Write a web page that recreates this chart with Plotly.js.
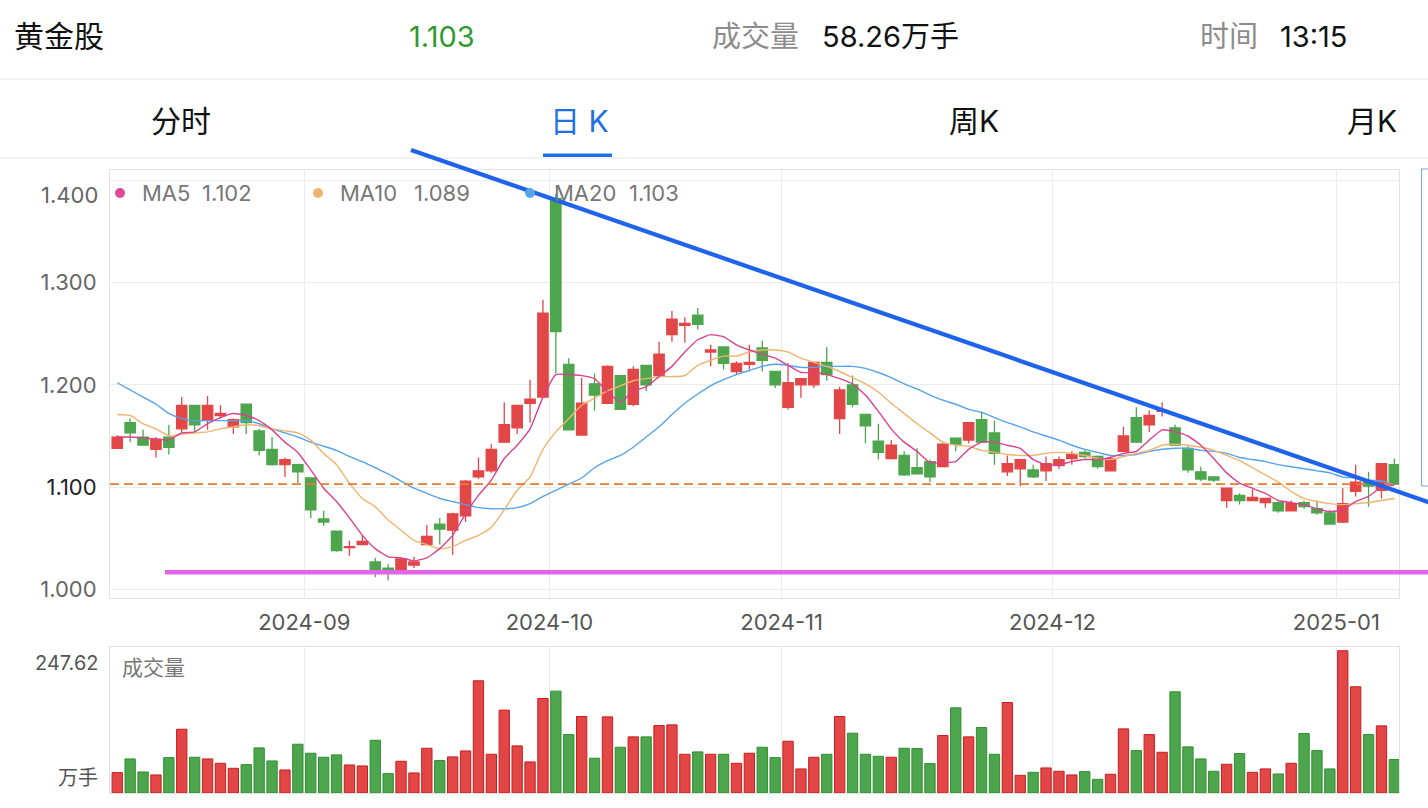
<!DOCTYPE html>
<html>
<head>
<meta charset="utf-8">
<script src="https://cdn.plot.ly/plotly-3.0.1.min.js"></script>
<style>
html,body{margin:0;padding:0;background:#fff;}
#chart{width:1428px;height:808px;}
</style>
</head>
<body>
<div id="chart"></div>
<script>
// ---------- data ----------
const months = ['2024-08','2024-09','2024-10','2024-11','2024-12','2025-01'];
const tradingDays = [15,19,18,21,22,5];

const open = [1.138,1.163,1.149,1.137,1.149,1.157,1.180,1.166,1.170,1.159,
1.181,1.155,1.137,1.122,1.122,1.109,1.069,1.057,1.041,1.044,
1.027,1.021,1.019,1.024,1.044,1.064,1.058,1.072,1.110,1.116,
1.144,1.158,1.182,1.188,1.382,1.220,1.151,1.201,1.182,1.209,
1.181,1.219,1.209,1.249,1.258,1.268,1.232,1.237,1.213,1.220,
1.236,1.213,1.178,1.200,1.200,1.222,1.167,1.200,1.171,1.145,
1.128,1.131,1.119,1.125,1.120,1.148,1.146,1.166,1.153,1.115,
1.118,1.117,1.116,1.121,1.128,1.134,1.130,1.116,1.135,1.168,
1.161,1.174,1.158,1.138,1.115,1.110,1.087,1.092,1.087,1.085,
1.085,1.077,1.085,1.079,1.075,1.066,1.096,1.105,1.097,1.122];
const high = [1.151,1.167,1.156,1.149,1.161,1.188,1.180,1.189,1.180,1.167,
1.181,1.157,1.149,1.129,1.123,1.109,1.077,1.057,1.048,1.053,
1.031,1.025,1.031,1.032,1.063,1.070,1.075,1.107,1.129,1.142,
1.183,1.180,1.205,1.283,1.386,1.226,1.207,1.211,1.219,1.209,
1.218,1.219,1.242,1.272,1.266,1.275,1.239,1.237,1.223,1.239,
1.243,1.213,1.221,1.206,1.222,1.237,1.198,1.209,1.171,1.162,
1.146,1.135,1.138,1.127,1.143,1.148,1.163,1.174,1.165,1.131,
1.127,1.122,1.130,1.130,1.135,1.136,1.131,1.130,1.159,1.178,
1.175,1.183,1.161,1.140,1.120,1.111,1.099,1.094,1.098,1.089,
1.086,1.087,1.087,1.087,1.078,1.099,1.122,1.115,1.123,1.128];
const low = [1.138,1.144,1.141,1.129,1.132,1.153,1.154,1.156,1.167,1.152,
1.152,1.131,1.121,1.110,1.104,1.070,1.062,1.037,1.033,1.043,
1.012,1.009,1.018,1.021,1.044,1.044,1.034,1.066,1.108,1.114,
1.144,1.152,1.163,1.188,1.211,1.156,1.151,1.175,1.181,1.176,
1.179,1.194,1.209,1.242,1.241,1.254,1.218,1.215,1.210,1.215,
1.213,1.197,1.176,1.187,1.197,1.204,1.152,1.178,1.143,1.127,
1.127,1.111,1.113,1.105,1.120,1.135,1.143,1.144,1.122,1.111,
1.101,1.109,1.106,1.118,1.122,1.128,1.118,1.116,1.135,1.144,
1.154,1.169,1.141,1.114,1.106,1.105,1.080,1.083,1.087,1.080,
1.075,1.077,1.079,1.073,1.064,1.065,1.091,1.081,1.089,1.103];
const close = [1.149,1.153,1.141,1.147,1.139,1.180,1.161,1.180,1.172,1.166,
1.163,1.136,1.122,1.127,1.115,1.078,1.066,1.038,1.042,1.047,
1.019,1.019,1.030,1.027,1.052,1.059,1.074,1.106,1.116,1.137,
1.161,1.180,1.186,1.270,1.252,1.156,1.182,1.190,1.218,1.176,
1.215,1.200,1.230,1.264,1.260,1.259,1.234,1.221,1.221,1.222,
1.224,1.200,1.202,1.206,1.222,1.210,1.195,1.181,1.160,1.134,
1.141,1.112,1.113,1.110,1.142,1.142,1.163,1.144,1.133,1.123,
1.127,1.110,1.123,1.127,1.132,1.130,1.120,1.128,1.150,1.144,
1.170,1.175,1.141,1.117,1.108,1.107,1.099,1.087,1.090,1.089,
1.077,1.084,1.081,1.075,1.064,1.084,1.105,1.101,1.123,1.103];
const volume = [35.5,59.3,36.6,31.4,61.6,111.0,62.2,59.3,51.7,43.0,
49.4,78.5,55.8,40.1,84.9,69.2,62.2,66.3,48.8,47.1,
91.8,33.7,55.2,34.9,77.9,56.4,62.8,73.2,195.3,67.4,
144.2,82.0,54.1,164.5,177.3,101.7,133.1,60.5,132.5,79.6,
97.7,97.7,117.4,118.6,67.4,71.5,67.4,67.4,51.7,69.2,
79.6,61.6,90.1,41.9,62.2,67.4,133.1,104.1,67.4,63.9,
62.2,77.9,77.3,51.2,100.0,148.2,97.7,113.9,67.4,157.5,
30.8,36.0,43.6,37.8,31.4,37.2,23.8,32.6,111.6,73.8,
101.7,70.9,176.1,80.2,59.3,37.8,50.0,68.6,36.0,41.9,
33.1,51.7,103.5,73.8,41.9,247.62,184.9,101.7,116.8,58.26];
const ma5 = [1.149,1.149,1.148,1.147,1.146,1.153,1.154,1.162,1.168,1.172,
1.170,1.165,1.156,1.144,1.134,1.117,1.099,1.086,1.070,1.053,
1.040,1.032,1.031,1.028,1.031,1.040,1.053,1.074,1.092,1.107,
1.128,1.141,1.157,1.188,1.210,1.210,1.209,1.206,1.193,1.183,
1.194,1.198,1.208,1.218,1.232,1.244,1.249,1.247,1.239,1.234,
1.230,1.226,1.219,1.212,1.212,1.210,1.206,1.201,1.190,1.174,
1.157,1.144,1.135,1.124,1.124,1.125,1.137,1.144,1.144,1.141,
1.138,1.127,1.122,1.122,1.125,1.127,1.127,1.129,1.133,1.135,
1.146,1.156,1.154,1.150,1.141,1.128,1.114,1.104,1.099,1.094,
1.087,1.085,1.083,1.079,1.076,1.078,1.086,1.091,1.100,1.102];
const ma10 = [1.171,1.170,1.162,1.157,1.150,1.152,1.153,1.154,1.157,1.159,
1.161,1.160,1.157,1.155,1.153,1.146,1.133,1.122,1.104,1.089,
1.081,1.068,1.058,1.048,1.044,1.040,1.042,1.048,1.053,1.061,
1.078,1.097,1.110,1.137,1.154,1.167,1.180,1.187,1.194,1.199,
1.204,1.206,1.208,1.208,1.209,1.219,1.224,1.228,1.228,1.232,
1.234,1.234,1.232,1.226,1.222,1.218,1.213,1.207,1.201,1.193,
1.182,1.172,1.162,1.153,1.144,1.141,1.140,1.136,1.134,1.132,
1.131,1.131,1.133,1.134,1.133,1.131,1.128,1.127,1.130,1.133,
1.136,1.141,1.142,1.141,1.139,1.136,1.131,1.126,1.119,1.112,
1.105,1.096,1.089,1.086,1.084,1.083,1.084,1.085,1.087,1.089];
const ma20 = [1.202,1.195,1.188,1.181,1.172,1.167,1.165,1.165,1.165,1.165,
1.165,1.162,1.157,1.153,1.149,1.144,1.140,1.136,1.130,1.125,
1.119,1.113,1.106,1.099,1.094,1.089,1.086,1.083,1.080,1.079,
1.079,1.080,1.084,1.091,1.097,1.103,1.109,1.119,1.126,1.131,
1.139,1.149,1.159,1.171,1.182,1.191,1.199,1.205,1.210,1.214,
1.218,1.220,1.219,1.217,1.217,1.218,1.218,1.218,1.216,1.212,
1.207,1.201,1.196,1.190,1.185,1.181,1.176,1.173,1.168,1.163,
1.159,1.154,1.150,1.146,1.141,1.137,1.134,1.131,1.131,1.132,
1.135,1.137,1.138,1.138,1.136,1.135,1.133,1.129,1.127,1.125,
1.122,1.120,1.118,1.116,1.114,1.110,1.109,1.107,1.106,1.103];
const lastPrice = 1.103;
const supportLevel = 1.017;
const maLabels = ['MA5','MA10','MA20'];
const maValues = ['1.102','1.089','1.103'];
const priceTicks = [1.0,1.1,1.2,1.3,1.4];
const volMaxLabel = '247.62';

// ---------- helpers ----------
const W = 1428, H = 808;
const px = x => x / W;
const py = y => 1 - y / H;
const idx = open.map((_, i) => i);
const UP = '#e24646', DOWN = '#4da64d';
const UP_LINE = '#c81e1e', DOWN_LINE = '#2f8f2f';
const FONT = 'Inter, "Noto Sans CJK SC", sans-serif';

let cum = 0; const tickPos = [], tickText = [];
tradingDays.forEach((n, k) => { if (k > 0) { tickPos.push(cum - 0.5); tickText.push(months[k]); } cum += n; });

const volColors = idx.map(i => close[i] >= open[i] ? UP : DOWN);
const volLine = idx.map(i => close[i] >= open[i] ? UP_LINE : DOWN_LINE);

const traces = [
  {type:'candlestick', x: idx, open, high, low, close, xaxis:'x', yaxis:'y',
   increasing:{line:{color:UP, width:1.3}, fillcolor:UP},
   decreasing:{line:{color:DOWN, width:1.3}, fillcolor:DOWN},
   whiskerwidth:0, hoverinfo:'skip'},
  {type:'scatter', mode:'lines', x: idx, y: ma20, line:{color:'#55a3ea', width:1.4, shape:'spline', smoothing:0.6}, xaxis:'x', yaxis:'y', hoverinfo:'skip'},
  {type:'scatter', mode:'lines', x: idx, y: ma10, line:{color:'#f1b36e', width:1.4, shape:'spline', smoothing:0.6}, xaxis:'x', yaxis:'y', hoverinfo:'skip'},
  {type:'scatter', mode:'lines', x: idx, y: ma5, line:{color:'#d8428f', width:1.4, shape:'spline', smoothing:0.4}, xaxis:'x', yaxis:'y', hoverinfo:'skip'},
  {type:'bar', x: idx, y: volume, width:0.8, marker:{color: volColors, line:{color: volLine, width:1}}, xaxis:'x2', yaxis:'y2', hoverinfo:'skip'}
];

const xDom = [px(110), px(1399)];
const xRange = [-0.562, 99.36];
const grid = '#ebebeb', border = '#e2e2e2';

const tickTextY = priceTicks.map(v => {
  const s = v.toFixed(3);
  if (v === 1.4) return '';
  if (Math.abs(v - 1.1) < 1e-9) return '<span style="color:#222">' + s + '</span>';
  return s;
});

const shapes = [
  {type:'line', xref:'paper', yref:'paper', x0:0, x1:1, y0:py(79), y1:py(79), line:{color:'#e6e6e6', width:1}},
  {type:'line', xref:'paper', yref:'paper', x0:0, x1:1, y0:py(158), y1:py(158), line:{color:'#e6e6e6', width:1}},
  {type:'rect', xref:'paper', yref:'paper', x0:px(543), x1:px(612), y0:py(157), y1:py(153.5), fillcolor:'#1f6fe6', line:{width:0}},
  {type:'line', xref:'paper', yref:'y', x0:px(110), x1:px(1399), y0:lastPrice, y1:lastPrice, line:{color:'#e97b2c', width:1.6, dash:'9px,5px'}},
  {type:'line', xref:'paper', yref:'y', x0:px(165), x1:1.01, y0:supportLevel, y1:supportLevel, line:{color:'#e264ea', width:4.5}},
  {type:'line', xref:'paper', yref:'paper', x0:px(411), y0:py(150), x1:px(1430), y1:py(502.7), line:{color:'#1f63ec', width:4.2}},
  {type:'rect', xref:'paper', yref:'paper', x0:px(1421.5), x1:1.02, y0:py(486), y1:py(169), line:{color:'#7ea4da', width:1}, fillcolor:'rgba(0,0,0,0)'},
  {type:'circle', xref:'paper', yref:'paper', x0:px(115), x1:px(125), y0:py(198), y1:py(188), fillcolor:'#dc4a96', line:{width:0}},
  {type:'circle', xref:'paper', yref:'paper', x0:px(313), x1:px(323), y0:py(198), y1:py(188), fillcolor:'#f0b46e', line:{width:0}},
  {type:'circle', xref:'paper', yref:'paper', x0:px(525), x1:px(535), y0:py(198), y1:py(188), fillcolor:'#5aa5ea', line:{width:0}}
];

function ann(text, x, y, size, color, xanchor) {
  return {text, xref:'paper', yref:'paper', x: px(x), y: py(y), xanchor: xanchor || 'left', yanchor:'middle',
          showarrow:false, font:{family:FONT, size, color}};
}
const annotations = [
  ann('黄金股', 12, 36, 30, '#111'),
  ann('1.103', 407, 36, 29, '#2e9a2e'),
  ann('成交量', 710, 36, 29, '#8c8c8c'),
  ann('58.26万手', 820, 36, 29, '#111'),
  ann('时间', 1198, 36, 29, '#8c8c8c'),
  ann('13:15', 1278, 36, 29, '#111'),
  ann('分时', 181, 121, 30, '#111', 'center'),
  ann('日 K', 579, 121, 30, '#1f6fe6', 'center'),
  ann('周K', 974, 121, 30, '#111', 'center'),
  ann('月K', 1372, 121, 30, '#111', 'center'),
  ann(maLabels[0], 140, 193, 22, '#777'), ann(maValues[0], 200, 193, 22, '#777'),
  ann(maLabels[1], 338, 193, 22, '#777'), ann(maValues[1], 412, 193, 22, '#777'),
  ann(maLabels[2], 552, 193, 22, '#777'), ann(maValues[2], 627, 193, 22, '#777'),
  ann(priceTicks[4].toFixed(3), 100, 195, 22, '#666', 'right'),
  ann(volMaxLabel, 100, 663, 20, '#555', 'right'),
  ann('万手', 100, 778, 20, '#555', 'right'),
  ann('成交量', 120, 667, 21, '#777')
];

const layout = {
  width: W, height: H, margin:{l:0, r:0, t:0, b:0},
  paper_bgcolor:'#fff', plot_bgcolor:'#fff', showlegend:false, hovermode:false,
  font:{family:FONT}, boxgap:0.2, boxgroupgap:0,
  xaxis:{domain:xDom, range:xRange, anchor:'y', tickmode:'array', tickvals:tickPos, ticktext:tickText,
         showgrid:true, gridcolor:grid, gridwidth:1, zeroline:false, showline:true, mirror:true, linecolor:border,
         ticks:'', ticklabelstandoff:5, tickfont:{size:22, color:'#555', family:FONT}, rangeslider:{visible:false}, fixedrange:true},
  yaxis:{domain:[py(598), py(170)], range:[0.9918, 1.40977], anchor:'x', tickmode:'array', tickvals:priceTicks, ticktext:tickTextY,
         showgrid:true, gridcolor:grid, zeroline:false, showline:true, mirror:true, linecolor:border,
         ticks:'', ticklabelstandoff:8, tickfont:{size:22, color:'#666', family:FONT}, fixedrange:true},
  xaxis2:{domain:xDom, range:xRange, anchor:'y2', tickmode:'array', tickvals:tickPos, showticklabels:false,
          showgrid:true, gridcolor:grid, zeroline:false, showline:true, mirror:true, linecolor:border, ticks:'',
          rangeslider:{visible:false}, fixedrange:true},
  yaxis2:{domain:[py(793), py(647)], range:[0, 254.1], anchor:'x2', showgrid:false, showticklabels:false,
          zeroline:false, showline:true, mirror:true, linecolor:border, ticks:'', fixedrange:true},
  shapes, annotations
};

Plotly.newPlot('chart', traces, layout, {staticPlot:true, displayModeBar:false});
</script>
</body>
</html>
